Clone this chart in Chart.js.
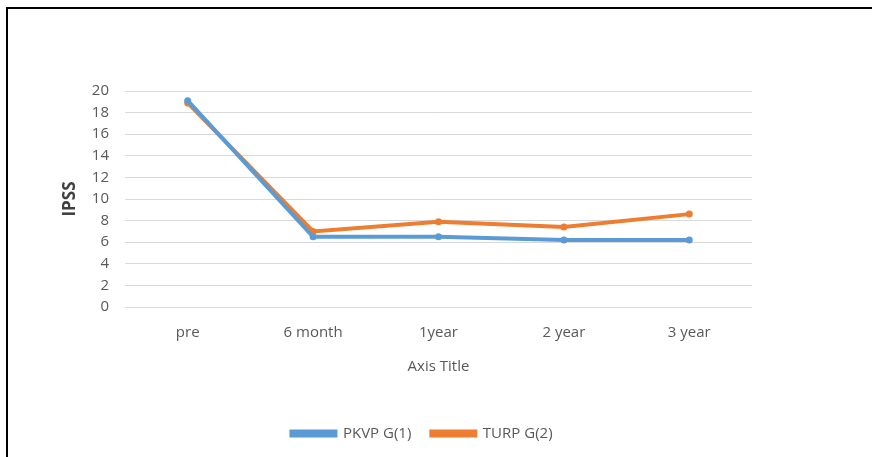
<!DOCTYPE html>
<html>
<head>
<meta charset="utf-8">
<script src="https://cdn.jsdelivr.net/npm/chart.js@4"></script>
<style>
    html, body { margin: 0; padding: 0; background: #fff; overflow: hidden; }
    #wrap { position: relative; width: 872px; height: 457px; }
    #frame {
        position: absolute; left: 6px; top: 7px; width: 900px; height: 500px;
        border-left: 2px solid #000; border-top: 2px solid #000;
    }
    canvas { position: absolute; left: 0; top: 0; }
</style>
</head>
<body>
<div id="wrap">
    <div id="frame"></div>
    <canvas id="chart" width="872" height="457"></canvas>
</div>
<script>
// Datos del gráfico
const categories = ['pre', '6 month', '1year', '2 year', '3 year'];
const pkvpValues = [19.1, 6.5, 6.5, 6.2, 6.2];
const turpValues = [18.9, 7.0, 7.9, 7.4, 8.6];
const seriesNames = ['PKVP G(1)', 'TURP G(2)'];

// Colores
const BLUE = '#5B9BD5';
const ORANGE = '#ED7D31';
const TEXT = '#595959';
const FONT = "'Open Sans', sans-serif";

const ctx = document.getElementById('chart').getContext('2d');
new Chart(ctx, {
    type: 'line',
    data: {
        labels: categories,
        datasets: [{
            label: seriesNames[0],
            data: pkvpValues,
            borderColor: BLUE,
            backgroundColor: BLUE,
            borderWidth: 4,
            pointRadius: 3.5,
            pointBorderWidth: 0,
            tension: 0
        }, {
            label: seriesNames[1],
            data: turpValues,
            borderColor: ORANGE,
            backgroundColor: ORANGE,
            borderWidth: 4,
            pointRadius: 3.5,
            pointBorderWidth: 0,
            tension: 0
        }]
    },
    options: {
        responsive: false,
        animation: false,
        layout: { padding: { top: 91, left: 0, right: 28, bottom: 6 } },
        plugins: {
            tooltip: { enabled: false },
            legend: {
                position: 'bottom',
                labels: {
                    color: TEXT,
                    font: { family: FONT, size: 15 },
                    boxWidth: 44,
                    boxHeight: 4,
                    padding: 20
                }
            }
        },
        scales: {
            x: {
                offset: true,
                grid: { display: false, drawTicks: false },
                border: { display: false },
                ticks: { color: TEXT, font: { family: FONT, size: 15 }, padding: 17 },
                title: {
                    display: true, text: 'Axis Title', color: TEXT,
                    font: { family: FONT, size: 15 }, padding: { top: 0, bottom: 30 }
                },
                afterFit: (scale) => { scale.height = 99; }
            },
            y: {
                min: 0, max: 20,
                grid: { color: '#d9d9d9', drawTicks: false },
                border: { display: false },
                ticks: { stepSize: 2, color: TEXT, font: { family: FONT, size: 15 }, padding: 16 },
                title: {
                    display: true, text: 'IPSS', color: '#404040',
                    font: { family: FONT, size: 17, weight: 'bold' }, padding: { top: 60, bottom: 0 }
                },
                afterFit: (scale) => { scale.width = 125; }
            },
            // eje vacío a la derecha para dejar el hueco del gráfico original
            yR: {
                position: 'right',
                display: true,
                grid: { display: false },
                border: { display: false },
                ticks: { display: false },
                afterFit: (scale) => { scale.width = 92; }
            }
        }
    }
});
</script>
</body>
</html>
